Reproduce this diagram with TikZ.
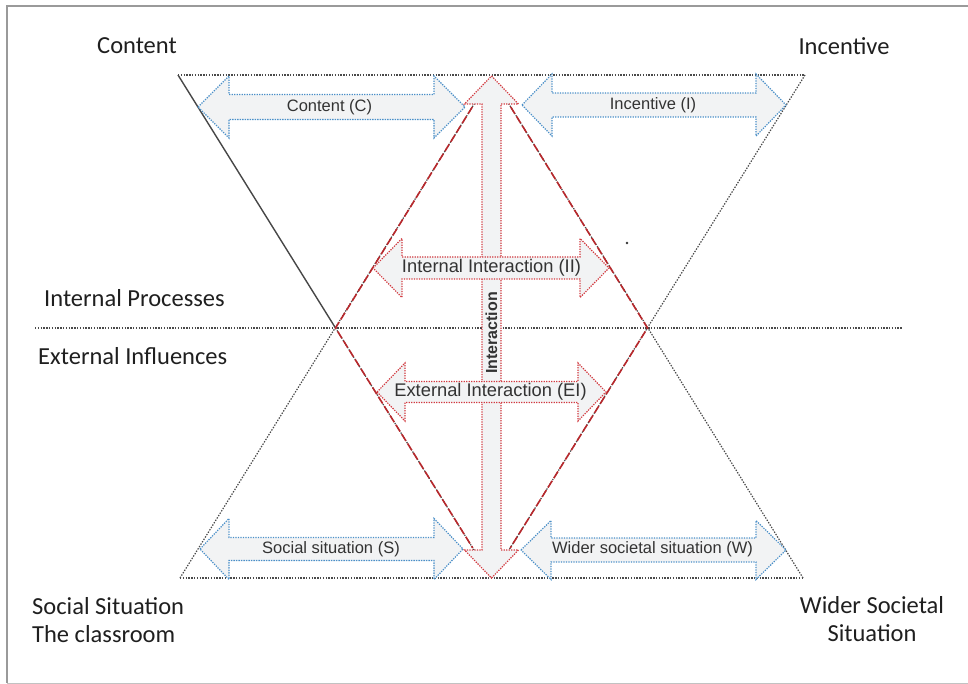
\documentclass[tikz,border=0pt]{standalone}
\usepackage{fontspec}
\setmainfont{Carlito}
\newfontfamily\arialf{Liberation Sans}
\usetikzlibrary{calc}
\definecolor{bluel}{HTML}{4A8FC8}
\definecolor{redl}{HTML}{D23A40}
\definecolor{redd}{HTML}{B8282C}
\definecolor{greyl}{HTML}{4A4A4A}
\definecolor{fillc}{HTML}{F2F3F4}
\definecolor{txt}{HTML}{333333}
\definecolor{frm}{HTML}{9A9A9A}
\newcommand\hdarr[7]{%
  \draw[#7] (#1,#3) -- ({#1+#6},{#3-#5}) -- ({#1+#6},{#3-#4}) -- ({#2-#6},{#3-#4})
    -- ({#2-#6},{#3-#5}) -- (#2,#3) -- ({#2-#6},{#3+#5}) -- ({#2-#6},{#3+#4})
    -- ({#1+#6},{#3+#4}) -- ({#1+#6},{#3+#5}) -- cycle;}
\begin{document}
\begin{tikzpicture}[x=1pt,y=-1pt,
  bluearr/.style={draw=bluel, fill=fillc, line width=1.2pt, dash pattern=on 1.3pt off 1.2pt},
  redarr/.style={draw=redl, fill=fillc, line width=1.2pt, dash pattern=on 1.3pt off 1.2pt},
  tri/.style={draw=greyl, line width=1.2pt, dash pattern=on 1.4pt off 1.4pt},
  solidl/.style={draw=black!72, line width=1.4pt},
  diam/.style={draw=redd, line width=1.6pt, dash pattern=on 8pt off 3pt},
  outer/.style={font=\fontsize{24.5}{28}\selectfont, text=black!88, inner sep=0pt, align=center},
  innerb/.style={font=\arialf\fontsize{16.5}{19}\selectfont, text=txt, inner sep=0pt},
  innerr/.style={font=\arialf\fontsize{18.3}{21}\selectfont, text=txt, inner sep=0pt},
]
\useasboundingbox (0,0) rectangle (968,684);
% frame
\draw[frm, line width=1.5pt] (7,683) -- (7,6) -- (975,6);
\draw[frm!60, line width=1pt] (7,683) -- (975,683);
% coordinates
\coordinate (TL) at (178,75);
\coordinate (TR) at (805,75);
\coordinate (BL) at (180,578);
\coordinate (BR) at (803,578);
\coordinate (TA) at (491.5,76);
\coordinate (BA) at (491.5,578);
\coordinate (LX) at (335.5,328);
\coordinate (RX) at (647.5,328);
\coordinate (HL) at (35,328);
\coordinate (HR) at (902,328);
% triangles
\draw[tri] (TL) -- (TR);
\draw[tri] (TR) -- (BA);
\draw[tri] (LX) -- (BA);
\draw[tri] (BL) -- (BR);
\draw[tri] (BL) -- (TA);
\draw[tri] (BR) -- (TA);
\draw[solidl] (TL) -- (LX);
\draw[tri] (HL) -- (HR);
% vertical arrow
\draw[redarr] (TA) -- (518.5,104) -- (501,104) -- (501,550) -- (518.5,550) -- (BA)
  -- (464.5,550) -- (482,550) -- (482,104) -- (464.5,104) -- cycle;
% diamond
\draw[diam] ($(TA)!0.123!(LX)$) -- (LX) -- ($(LX)!0.88!(BA)$);
\draw[diam] ($(TA)!0.123!(RX)$) -- (RX) -- ($(RX)!0.88!(BA)$);
% horizontal arrows
\hdarr{198}{465}{107}{12.5}{31}{31}{bluearr}
\hdarr{522}{786}{105}{12}{31}{30}{bluearr}
\hdarr{200}{463}{549}{11.5}{30.5}{29}{bluearr}
\hdarr{521}{786}{550}{12}{29.5}{30}{bluearr}
\hdarr{373}{609}{268}{11}{29.5}{29}{redarr}
\hdarr{377}{606}{392}{10.5}{29}{28}{redarr}
% stray dot
\fill[black!80] (627,243) circle (1.3);
% labels
\node[rotate=90, font=\arialf\bfseries\fontsize{16}{19}\selectfont, text=txt, inner sep=0pt] (lint) at (491.5,333) {Interaction};
\node[innerb] (lc) at (329.5,107) {Content (C)};
\node[innerb] (li) at (653,105) {Incentive (I)};
\node[innerb] (ls) at (331,549) {Social situation (S)};
\node[innerb] (lw) at (652.5,549) {Wider societal situation (W)};
\node[innerr] (lii) at (491.5,268) {Internal Interaction (II)};
\node[innerr] (lei) at (490.5,392) {External Interaction (EI)};
\node[outer] (content) at (137,46) {Content};
\node[outer] (incentive) at (844,46) {Incentive};
\node[outer, anchor=west] (ip) at (44,298) {Internal Processes};
\node[outer, anchor=west] (ei) at (38,356) {External Influences};
\node[outer, align=left, anchor=west] (ss) at (32,620) {Social Situation\\The classroom};
\node[outer] (ws) at (872,619) {Wider Societal\\Situation};
\end{tikzpicture}
\end{document}
